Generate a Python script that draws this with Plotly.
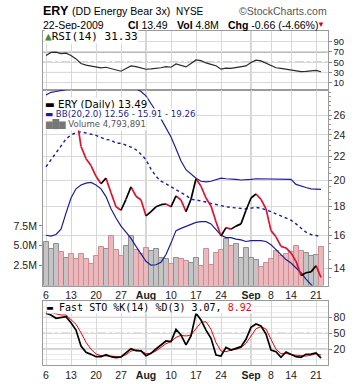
import plotly.graph_objects as go
import pandas as pd
import math

W, H = 360, 384

# ---------------- data ----------------
dates = [d for d in pd.bdate_range("2009-07-06", "2009-09-22") if d != pd.Timestamp("2009-09-07")]

prev_close = 25.6
close = [26.0, 26.8, 27.6, 27.0, 27.4, 26.8, 26.2,
         22.9, 21.8, 21.2, 20.3, 19.7, 20.15, 19.0, 17.95, 17.7, 18.5,
         19.45, 18.73, 18.45, 17.3, 17.6, 17.95, 18.1, 18.15, 17.95, 18.75,
         18.45, 17.6, 18.5, 20.1, 19.5, 18.6, 18.0, 16.9, 15.95, 16.5,
         16.4, 16.6, 16.75, 17.7, 18.6, 18.9, 18.5, 17.8, 16.3, 15.9,
         15.3, 15.2, 14.9, 14.4, 13.6, 13.75, 13.8, 14.15, 13.49]

bb_upper = [28.2, 28.5, 28.6, 28.7, 28.8, 29.5, 30.5,
            31.5, 32.0, 32.3, 32.3, 32.0, 31.5, 31.0, 30.5, 30.0, 29.6,
            29.2, 28.9, 28.6, 28.1, 27.3, 26.4, 25.6, 24.7, 23.8, 22.7,
            21.6, 20.85, 20.5, 20.15, 19.9, 19.85, 19.9, 20.05, 20.15, 20.1,
            20.1, 20.05, 20.0, 20.0, 20.05, 20.1, 20.1, 20.1, 20.1, 20.05,
            20.1, 20.1, 20.05, 19.65, 19.5, 19.4, 19.3, 19.27, 19.26]

bb_mid = [21.1, 21.7, 22.3, 23.0, 23.6, 24.0, 24.2,
          24.3, 24.2, 24.1, 23.95, 23.75, 23.55, 23.5, 23.2, 23.2, 23.05,
          22.85, 22.6, 22.2, 21.7, 20.9, 20.3, 19.9, 19.7, 19.45, 19.25,
          19.0, 18.8, 18.5, 18.45, 18.4, 18.3, 18.2, 18.1, 18.05, 17.95,
          17.9, 17.85, 17.8, 17.8, 17.85, 17.9, 17.85, 17.75, 17.6, 17.45,
          17.3, 17.15, 17.0, 16.75, 16.45, 16.2, 16.05, 16.0, 15.91]

bb_lower = [16.0, 15.95, 16.05, 16.4, 17.5, 18.6, 19.3,
            19.6, 19.75, 19.8, 19.6, 19.3, 18.7, 17.8, 17.15, 16.6, 16.2,
            15.8, 15.3, 14.8, 14.4, 14.18, 14.2, 14.35, 14.8, 15.5, 16.3,
            16.45, 16.6, 16.7, 16.85, 16.9, 16.9, 16.75, 16.35, 16.0, 15.85,
            15.85, 15.75, 15.7, 15.6, 15.65, 15.65, 15.65, 15.6, 15.4, 15.1,
            14.8, 14.5, 14.3, 14.0, 13.75, 13.4, 13.1, 12.8, 12.56]

volume_m = [5.53, 4.61, 5.24, 4.27, 3.48, 3.98, 3.33,
            3.98, 3.39, 2.72, 3.70, 4.84, 4.61, 6.25, 4.49, 3.73, 4.99,
            6.25, 4.49, 3.98, 4.74, 4.40, 4.56, 3.48, 3.35, 2.72, 3.48,
            3.35, 3.14, 2.85, 3.48, 2.50, 4.60, 2.63, 4.10, 4.48, 5.87,
            4.98, 5.24, 3.40, 4.70, 3.50, 3.25, 2.29, 2.80, 3.35, 4.31,
            3.73, 3.98, 4.18, 5.03, 4.40, 4.11, 3.77, 3.89, 4.79]

rsi = [63, 69.2, 69.6, 66.7, 67.6, 63, 56.5,
       47.6, 44.3, 42.2, 40.4, 38.8, 40.2, 37.3, 34.3, 32.4, 37.8,
       42.7, 41.4, 38.8, 36.3, 36.9, 37.5, 39.2, 41.2, 40.2, 46.7,
       43.7, 40.8, 47.6, 54.5, 53.1, 48.6, 45.7, 43.1, 36.5, 38.5,
       38.0, 39.5, 40.5, 42.7, 49.6, 54.1, 52.5, 48.0, 42.7, 39.2,
       37.8, 36.3, 35.3, 34.3, 31.6, 32.2, 33.0, 34.0, 31.33]

sto_k = [88, 84.5, 78.3, 80.2, 81.5, 70, 56.2,
         26, 14.1, 10.3, 5.9, 5.9, 9.6, 5.9, 4.0, 5.3, 14.1,
         21, 17.2, 16.8, 7.8, 12.3, 20.4, 28.5, 35.5, 34.2, 57.5,
         46.8, 28, 44.9, 87.7, 75, 56, 40.6, 9, 7.2, 23.6,
         18.5, 21.7, 24.8, 38.7, 61.3, 67.5, 63.8, 48.7, 18.5, 15.3,
         4.7, 14.7, 10.9, 5.9, 4.7, 10.5, 10.8, 12.9, 3.07]

sto_d = [91, 89, 85.8, 84.5, 84.5, 76.4, 67,
         51, 33, 19.8, 10.9, 7.8, 7.2, 7.2, 5.9, 5.9, 9.6,
         16.6, 18.5, 17.2, 11.5, 12.3, 16.6, 22.9, 30.4, 34.2, 42.4,
         46.2, 44.9, 46.8, 58.1, 70.7, 71.9, 57.5, 32.3, 16.6, 15.3,
         18.5, 19.8, 22.9, 31.1, 46.2, 58.7, 62.5, 58.1, 38.7, 19.8,
         11.5, 12.3, 9.6, 8.5, 7.2, 7.0, 8.7, 11.4, 8.92]

tick_dates = ["2009-07-06", "2009-07-13", "2009-07-20", "2009-07-27", "2009-08-03", "2009-08-10",
              "2009-08-17", "2009-08-24", "2009-09-01", "2009-09-08", "2009-09-14", "2009-09-21"]
tick_text = ["6", "13", "20", "27", "<b>Aug</b>", "10", "17", "24", "<b>Sep</b>", "8", "14", "21"]
month_dates = ["2009-08-03", "2009-09-01"]

price_ticks = [14, 16, 18, 20, 22, 24, 26]
vol_ticks = [2.5, 5.0, 7.5]
rsi_ticks = [10, 30, 50, 70, 90]
sto_ticks = [20, 50, 80]

# ---------------- helpers ----------------
idx = list(range(len(dates)))
pos = {d.strftime("%Y-%m-%d"): i for i, d in enumerate(dates)}
tick_idx = [pos[d] for d in tick_dates]
month_idx = [pos[d] for d in month_dates]


def px(x):
    return x / W


def py(y):
    return 1 - y / H


FONT = "Liberation Sans, Arial, sans-serif"
SANS = "DejaVu Sans, Verdana, sans-serif"
MONO = "DejaVu Sans Mono, monospace"
GRID = "#d9d9d9"
LINE = "#9a9a9a"
XR = [-0.6, 56.3]

fig = go.Figure()

# volume bars
prevs = [prev_close] + close[:-1]
up = [c >= p for c, p in zip(close, prevs)]
fig.add_trace(go.Bar(x=idx, y=[v * 1e6 for v in volume_m], xaxis="x2", yaxis="y2",
                     marker=dict(color=["#c4c4c4" if u else "#e9b9bd" for u in up],
                                 line=dict(color=["#8f8f8f" if u else "#d08a92" for u in up], width=1)),
                     width=1.0, showlegend=False, hoverinfo="skip"))

# Bollinger bands
BLUE = "#1c1c9a"
fig.add_trace(go.Scatter(x=idx, y=bb_upper, xaxis="x2", yaxis="y3", mode="lines",
                         line=dict(color=BLUE, width=1.2), showlegend=False))
fig.add_trace(go.Scatter(x=idx, y=bb_lower, xaxis="x2", yaxis="y3", mode="lines",
                         line=dict(color=BLUE, width=1.2), showlegend=False))
fig.add_trace(go.Scatter(x=idx, y=bb_mid, xaxis="x2", yaxis="y3", mode="lines",
                         line=dict(color=BLUE, width=1.4, dash="dot"), showlegend=False))

# close line coloured by direction
ux, uy, dx, dy = [], [], [], []
for i in range(1, len(close)):
    if close[i] >= close[i - 1]:
        ux += [i - 1, i, None]
        uy += [close[i - 1], close[i], None]
    else:
        dx += [i - 1, i, None]
        dy += [close[i - 1], close[i], None]
fig.add_trace(go.Scatter(x=dx, y=dy, xaxis="x2", yaxis="y3", mode="lines",
                         line=dict(color="#e0102f", width=1.7), showlegend=False))
fig.add_trace(go.Scatter(x=ux, y=uy, xaxis="x2", yaxis="y3", mode="lines",
                         line=dict(color="#000000", width=1.7), showlegend=False))

# RSI
fig.add_trace(go.Scatter(x=idx, y=rsi, xaxis="x", yaxis="y", mode="lines",
                         line=dict(color="#2a2a2a", width=1.2), showlegend=False))

# Stochastics
fig.add_trace(go.Scatter(x=idx, y=sto_d, xaxis="x3", yaxis="y4", mode="lines",
                         line=dict(color="#ff0000", width=1.0), showlegend=False))
fig.add_trace(go.Scatter(x=idx, y=sto_k, xaxis="x3", yaxis="y4", mode="lines",
                         line=dict(color="#000000", width=1.7), showlegend=False))

xdom = [px(43), px(327.5)]
rsi_dom = [py(89.5), py(31)]
main_dom = [py(285.5), py(90)]
sto_dom = [py(365), py(300.7)]

common_x = dict(domain=xdom, range=XR, tickmode="array", tickvals=tick_idx, ticktext=tick_text,
                showgrid=True, gridcolor=GRID, gridwidth=1, showline=True, mirror=True,
                linecolor=LINE, linewidth=1, zeroline=False, ticks="", automargin=False,
                tickfont=dict(family=FONT, size=10.5, color="#222"))
right_y = dict(side="right", ticks="outside", ticklen=3, tickcolor="#888", showline=True,
               mirror=True, linecolor=LINE, linewidth=1, zeroline=False, automargin=False,
               gridcolor=GRID, tickfont=dict(family=FONT, size=10.5, color="#222"))

minor_vals = [v / 2 for v in range(26, 58)]

fig.update_layout(
    width=W, height=H, margin=dict(l=0, r=0, t=0, b=0),
    paper_bgcolor="white", plot_bgcolor="white", bargap=0,
    xaxis=dict(common_x, anchor="y", showticklabels=False),
    xaxis2=dict(common_x, anchor="y2", showticklabels=True),
    xaxis3=dict(common_x, anchor="y4", showticklabels=True),
    yaxis=dict(right_y, domain=rsi_dom, anchor="x", range=[-3.3, 111], tickmode="array",
               tickvals=rsi_ticks, showgrid=True,
               tickfont=dict(family=FONT, size=9.5, color="#222")),
    yaxis2=dict(domain=main_dom, anchor="x2", side="left", range=[0, 24.6e6], tickmode="array",
                tickvals=[v * 1e6 for v in vol_ticks], ticktext=["%.1fM" % v for v in vol_ticks],
                ticks="outside", ticklen=3, tickcolor="#888", showgrid=False, showline=True,
                linecolor=LINE, zeroline=False, automargin=False,
                tickfont=dict(family=FONT, size=10.5, color="#222")),
    yaxis3=dict(right_y, domain=main_dom, anchor="x2", overlaying="y2", type="log",
                range=[math.log10(13.06), math.log10(28.77)], tickmode="array",
                tickvals=price_ticks, ticktext=[str(v) for v in price_ticks], showgrid=True,
                minor=dict(tickvals=minor_vals, ticklen=2, ticks="outside", tickcolor="#999",
                           showgrid=False)),
    yaxis4=dict(right_y, domain=sto_dom, anchor="x3", range=[-9.8, 111.5], tickmode="array",
                tickvals=sto_ticks, showgrid=True,
                minor=dict(dtick=10, showgrid=True, gridcolor="#ececec", ticks="")),
)

shapes = []
# month separators
for xref, yref in [("x", "y domain"), ("x2", "y2 domain"), ("x3", "y4 domain")]:
    for m in month_idx:
        shapes.append(dict(type="line", xref=xref, yref=yref, x0=m, x1=m, y0=0, y1=1,
                           line=dict(color="#a8a8a8", width=1), layer="below"))
# RSI reference lines
for v, dash in [(70, "solid"), (30, "solid"), (50, "dashdot")]:
    shapes.append(dict(type="line", xref="x domain", yref="y", x0=0, x1=1, y0=v, y1=v,
                       line=dict(color="#6e6e6e", width=1, dash=dash), layer="below"))
for v, dash in [(80, "solid"), (20, "solid"), (50, "dashdot")]:
    shapes.append(dict(type="line", xref="x3 domain", yref="y4", x0=0, x1=1, y0=v, y1=v,
                       line=dict(color="#6e6e6e", width=1, dash=dash), layer="below"))
fig.update_layout(shapes=shapes)

anns = []


def ann(x, y, text, size, family=FONT, color="#000", xanchor="left", bg=None):
    d = dict(x=px(x), y=py(y), xref="paper", yref="paper", text=text, showarrow=False,
             xanchor=xanchor, yanchor="middle", borderpad=0,
             font=dict(family=family, size=size, color=color))
    if bg:
        d["bgcolor"] = bg
    anns.append(d)


# header
ann(42, 11, "<b>ERY</b>", 12.5)
ann(71, 11, "(DD Energy Bear 3x)", 10.6)
ann(175, 11, "NYSE", 10)
ann(328, 11, "©StockCharts.com", 10.5, color="#555", xanchor="right")
ann(42, 24.5, "22-Sep-2009", 10.5)
ann(127, 24.5, "<b>Cl</b> 13.49", 10.5)
ann(176, 24.5, "<b>Vol</b> 4.8M", 10.5)
ann(227, 24.5, "<b>Chg</b> -0.66 (-4.66%)", 10.5)
ann(316, 24.5, "▼", 8, color="#c0102f")

# legends
ann(43.5, 36.5, '<span style="color:#3d8b3d">▲</span>RSI(14) 31.33', 11, family=MONO, bg="white")
ann(44, 103.5, "<b>▬</b> ERY (Daily) 13.49", 10.3, family=SANS, bg="white")
ann(44, 113.5, "▬ BB(20,2.0) 12.56 - 15.91 - 19.26", 8.6, family=SANS, color="#1c1c9a", bg="white")
ann(44, 124, '<span style="color:#777">▆█▆</span> Volume 4,793,891', 8.5, family=SANS, color="#555", bg="white")
ann(46, 307, '<b>▬</b> Fast STO %K(14) %D(3) 3.07, <span style="color:#ff0000">8.92</span>', 10,
    family=MONO, bg="white")

fig.update_layout(annotations=anns)

fig.write_html("out.html", config={"displayModeBar": False},
               post_script="document.body.style.margin='0';")
